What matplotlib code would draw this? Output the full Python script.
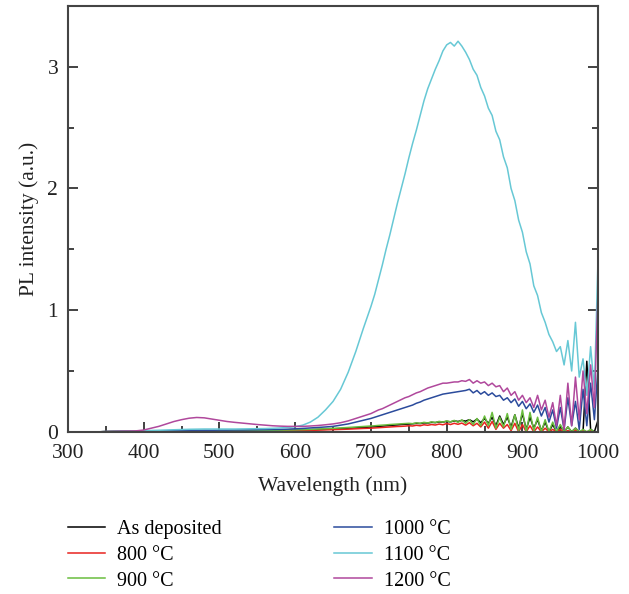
import matplotlib
matplotlib.use('Agg')
import matplotlib.pyplot as plt
from matplotlib.ticker import MultipleLocator

plt.rcParams['font.family'] = ['Liberation Serif', 'DejaVu Serif']

# Wavelength grid (nm)
wavelength = list(range(330, 700, 10)) + list(range(700, 1001, 5))

as_deposited = [0.0, 0.0, 0.002, 0.003, 0.003, 0.004, 0.004,
                0.005, 0.005, 0.006, 0.006, 0.007, 0.007, 0.007, 0.008, 0.008, 0.008,
                0.008, 0.009, 0.009, 0.01, 0.01, 0.01, 0.011, 0.011, 0.012, 0.012,
                0.013, 0.015, 0.017, 0.019, 0.021, 0.024, 0.027, 0.03, 0.033, 0.036,
                0.04, 0.042, 0.045, 0.047, 0.05, 0.052, 0.055, 0.057, 0.06, 0.062,
                0.064, 0.066, 0.07, 0.068, 0.074, 0.072, 0.078, 0.076, 0.082, 0.08,
                0.086, 0.082, 0.09, 0.085, 0.094, 0.088, 0.1, 0.082, 0.105, 0.075,
                0.11, 0.07, 0.12, 0.05, 0.13, 0.06, 0.12, 0.04, 0.14, 0.03,
                0.15, 0.02, 0.12, 0.03, 0.1, 0.01, 0.08, 0.0, 0.06, 0.0,
                0.05, 0.0, 0.04, 0.0, 0.03, 0.0, 0.0, 0.58, 0.02, 0.0,
                0.1]

t800 = [0.0, 0.0, 0.001, 0.002, 0.002, 0.003, 0.003,
        0.003, 0.004, 0.004, 0.004, 0.005, 0.005, 0.005, 0.005, 0.006, 0.006,
        0.006, 0.006, 0.007, 0.007, 0.007, 0.008, 0.008, 0.008, 0.009, 0.009,
        0.01, 0.011, 0.012, 0.014, 0.016, 0.018, 0.02, 0.022, 0.025, 0.028,
        0.03, 0.032, 0.034, 0.036, 0.038, 0.04, 0.042, 0.044, 0.045, 0.047,
        0.05, 0.048, 0.054, 0.05, 0.058, 0.054, 0.06, 0.056, 0.064, 0.058,
        0.068, 0.06, 0.07, 0.062, 0.072, 0.055, 0.075, 0.05, 0.07, 0.04,
        0.08, 0.03, 0.085, 0.02, 0.07, 0.03, 0.06, 0.01, 0.07, 0.0,
        0.06, 0.0, 0.05, 0.0, 0.04, 0.0, 0.03, 0.0, 0.02, 0.0,
        0.02, 0.0, 0.01, 0.0, 0.015, 0.0, 0.01, 0.0, 0.01, 0.0,
        0.0]

t900 = [0.0, 0.0, 0.002, 0.003, 0.004, 0.004, 0.005,
        0.005, 0.006, 0.006, 0.007, 0.007, 0.008, 0.008, 0.008, 0.009, 0.009,
        0.01, 0.01, 0.011, 0.011, 0.012, 0.012, 0.013, 0.013, 0.014, 0.015,
        0.016, 0.018, 0.02, 0.023, 0.026, 0.029, 0.032, 0.036, 0.04, 0.044,
        0.048, 0.05, 0.053, 0.055, 0.057, 0.06, 0.062, 0.064, 0.066, 0.068,
        0.07, 0.067, 0.074, 0.07, 0.078, 0.073, 0.082, 0.076, 0.086, 0.08,
        0.09, 0.082, 0.094, 0.078, 0.098, 0.07, 0.1, 0.06, 0.11, 0.05,
        0.13, 0.05, 0.16, 0.03, 0.12, 0.04, 0.15, 0.02, 0.14, 0.01,
        0.18, 0.0, 0.16, 0.01, 0.12, 0.0, 0.1, 0.0, 0.08, 0.0,
        0.06, 0.0, 0.04, 0.0, 0.03, 0.0, 0.02, 0.0, 0.02, 0.0,
        0.0]

t1000 = [0.0, 0.0, 0.002, 0.003, 0.004, 0.004, 0.005,
         0.006, 0.007, 0.008, 0.009, 0.01, 0.011, 0.012, 0.012, 0.013, 0.013,
         0.014, 0.014, 0.015, 0.015, 0.016, 0.017, 0.018, 0.019, 0.02, 0.022,
         0.025, 0.028, 0.032, 0.036, 0.04, 0.045, 0.055, 0.065, 0.08, 0.095,
         0.11, 0.12, 0.13, 0.14, 0.15, 0.16, 0.17, 0.18, 0.19, 0.2,
         0.21, 0.22, 0.235, 0.245, 0.26, 0.27, 0.28, 0.29, 0.3, 0.31,
         0.315, 0.32, 0.325, 0.33, 0.335, 0.34, 0.35, 0.32, 0.34, 0.31,
         0.33, 0.3, 0.32, 0.29, 0.3, 0.26, 0.28, 0.24, 0.27, 0.21,
         0.25, 0.19, 0.23, 0.16, 0.22, 0.13, 0.2, 0.08, 0.18, 0.03,
         0.2, 0.02, 0.28, 0.05, 0.25, 0.02, 0.35, 0.05, 0.4, 0.1,
         0.55]

t1100 = [0.0, 0.0, 0.002, 0.003, 0.004, 0.005, 0.007,
         0.009, 0.011, 0.013, 0.015, 0.017, 0.019, 0.021, 0.022, 0.023, 0.023,
         0.023, 0.023, 0.023, 0.024, 0.025, 0.026, 0.027, 0.029, 0.032, 0.036,
         0.042, 0.055, 0.08, 0.12, 0.18, 0.25, 0.35, 0.49, 0.66, 0.85,
         1.03, 1.13, 1.25, 1.37, 1.5, 1.62, 1.75, 1.88, 2.0, 2.12,
         2.25, 2.37, 2.48, 2.6, 2.72, 2.82, 2.9, 2.98, 3.05, 3.13,
         3.18, 3.2, 3.17, 3.21, 3.17, 3.12, 3.06, 2.98, 2.93, 2.83,
         2.76, 2.66, 2.6, 2.47, 2.4, 2.26, 2.17, 2.0, 1.9, 1.74,
         1.64, 1.48, 1.38, 1.2, 1.12, 0.98, 0.9, 0.8, 0.74, 0.66,
         0.7, 0.55, 0.75, 0.5, 0.9, 0.45, 0.6, 0.3, 0.7, 0.35,
         1.47]

t1200 = [0.0, 0.0, 0.002, 0.003, 0.005, 0.006, 0.008,
         0.015, 0.03, 0.045, 0.065, 0.085, 0.1, 0.112, 0.118, 0.115, 0.105,
         0.095, 0.085, 0.078, 0.072, 0.066, 0.06, 0.055, 0.05, 0.047, 0.045,
         0.045, 0.045, 0.048, 0.052, 0.058, 0.065, 0.075, 0.09, 0.11, 0.13,
         0.15, 0.165, 0.18, 0.19, 0.205, 0.22, 0.235, 0.25, 0.265, 0.28,
         0.29, 0.305, 0.32, 0.33, 0.345, 0.36, 0.37, 0.38, 0.39, 0.4,
         0.4, 0.405, 0.41, 0.41, 0.42, 0.415, 0.43, 0.4, 0.42, 0.4,
         0.41, 0.38, 0.4, 0.37, 0.38, 0.33, 0.36, 0.3, 0.33, 0.26,
         0.3, 0.24, 0.28, 0.2, 0.3, 0.18, 0.26, 0.12, 0.24, 0.05,
         0.3, 0.02, 0.4, 0.05, 0.45, 0.1, 0.5, 0.15, 0.55, 0.2,
         1.2]

series = [
    (as_deposited, 'As deposited', '#000000'),
    (t800, '800 °C', '#e8231f'),
    (t900, '900 °C', '#6abd3e'),
    (t1000, '1000 °C', '#2b4b9c'),
    (t1100, '1100 °C', '#67c8d5'),
    (t1200, '1200 °C', '#b0489c'),
]

fig = plt.figure(figsize=(6.29, 5.94), dpi=100)
ax = fig.add_axes([0.108, 0.273, 0.843, 0.717])

for values, label, color in series:
    ax.plot(wavelength, values, color=color, lw=1.1, label=label)

ax.set_xlim(300, 1000)
ax.set_ylim(0, 3.5)
ax.xaxis.set_major_locator(MultipleLocator(100))
ax.xaxis.set_minor_locator(MultipleLocator(50))
ax.yaxis.set_major_locator(MultipleLocator(1))
ax.yaxis.set_minor_locator(MultipleLocator(0.5))
ax.tick_params(which='both', direction='in', right=True, top=False,
               width=1.2, colors='#222222', labelsize=15.5, labelcolor='#222222')
ax.tick_params(axis='x', which='major', length=7, pad=9)
ax.tick_params(axis='y', which='major', length=7, pad=7)
ax.tick_params(which='minor', length=4)
for sp in ax.spines.values():
    sp.set_linewidth(1.5)
    sp.set_color('#444444')

ax.set_xlabel('Wavelength (nm)', fontsize=15.5, color='#222222', labelpad=9)
ax.set_ylabel('PL intensity (a.u.)', fontsize=15.5, color='#222222', labelpad=6)

handles, labels = ax.get_legend_handles_labels()
fig.legend(handles, labels, loc='upper left', bbox_to_anchor=(0.108, 0.124),
           ncol=2, frameon=False, fontsize=14.5, handlelength=1.84,
           handletextpad=0.6, columnspacing=5.6, labelspacing=0.32,
           borderpad=0, borderaxespad=0)

fig.savefig('out.png', dpi=100)
